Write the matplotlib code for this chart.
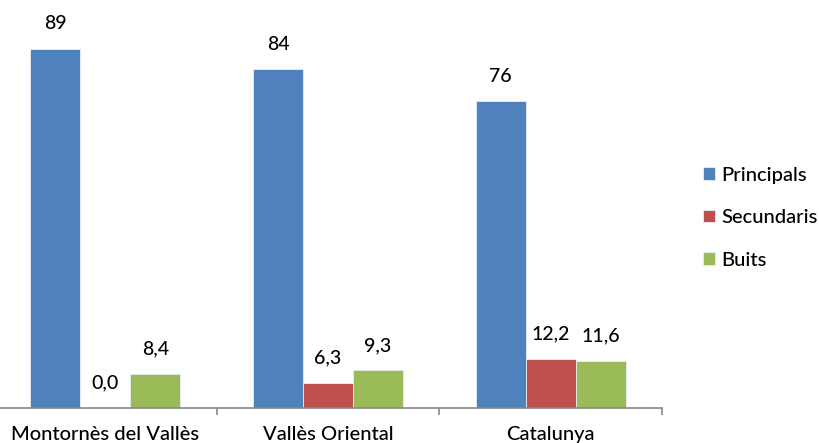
import matplotlib
matplotlib.use("Agg")
import matplotlib.pyplot as plt
import numpy as np

categories = ["Montornès del Vallès", "Vallès Oriental", "Catalunya"]
series = ["Principals", "Secundaris", "Buits"]
principals = [89, 84, 76]
secundaris = [0.0, 6.3, 12.2]
buits = [8.4, 9.3, 11.6]
labels_p = ["89", "84", "76"]
labels_s = ["0,0", "6,3", "12,2"]
labels_b = ["8,4", "9,3", "11,6"]

colors = ["#4F81BD", "#C0504D", "#9BBB59"]

plt.rcParams['font.family'] = ['Lato', 'DejaVu Sans']
plt.rcParams['font.weight'] = 'medium'

fig = plt.figure(figsize=(8.19, 4.43), dpi=100)
ax = fig.add_axes([-0.0076, 0.079, 0.8162, 0.9106])

x = np.arange(len(categories))
w = 0.2247
data = [principals, secundaris, buits]
labs = [labels_p, labels_s, labels_b]
for i, (vals, lb) in enumerate(zip(data, labs)):
    pos = x + (i - 1) * w
    ax.bar(pos, vals, w, color=colors[i], edgecolor="#e8eef6", linewidth=0.6, label=series[i])
    for p, v, t in zip(pos, vals, lb):
        ax.annotate(t, (p, v), xytext=(0, 18), textcoords="offset points",
                    ha="center", va="center", fontsize=14, color="#000000")

ax.set_xlim(-0.5, 2.5)
ax.set_ylim(0, 100)
ax.set_yticks([])
for s in ["left", "right", "top"]:
    ax.spines[s].set_visible(False)
ax.spines["bottom"].set_color("#888888")
ax.spines["bottom"].set_linewidth(1.2)
ax.set_xticks([0.5, 1.5, 2.5])
ax.set_xticklabels([])
ax.tick_params(axis="x", length=5, color="#888888", width=1.2, direction="out")
ax.set_xticks(x, minor=True)
ax.set_xticklabels(categories, minor=True, fontsize=14.5, color="#000000")
ax.tick_params(axis="x", which="minor", length=0, pad=13)

fig.legend(loc="upper left", bbox_to_anchor=(0.836, 0.665), frameon=False,
           fontsize=14.5, handlelength=0.6, handleheight=0.6, handletextpad=0.3,
           labelspacing=1.27)

fig.savefig("out.png", dpi=100)
